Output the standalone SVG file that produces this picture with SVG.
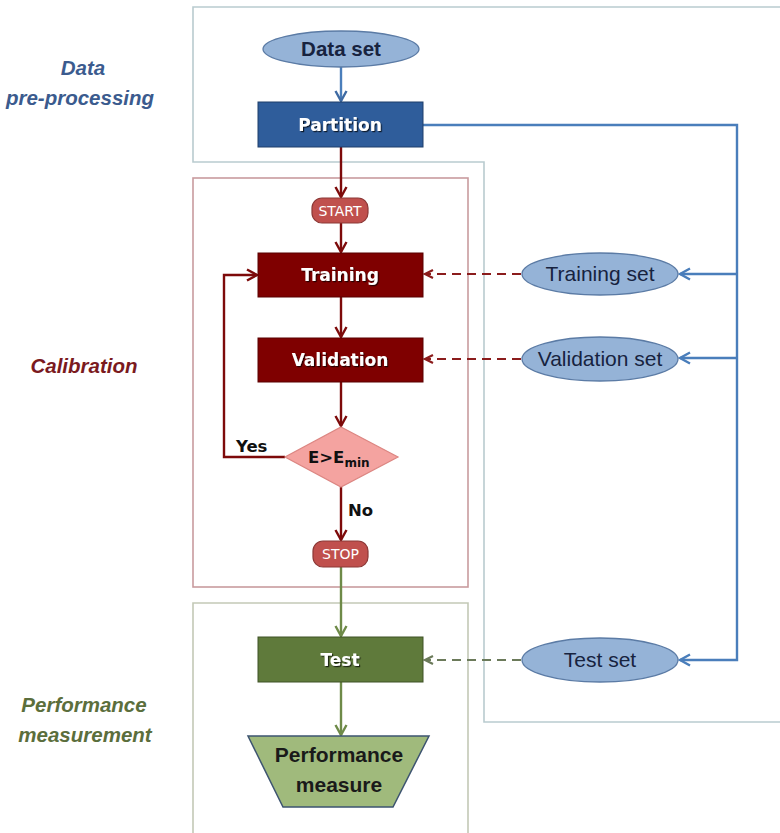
<svg xmlns="http://www.w3.org/2000/svg" width="780" height="833" viewBox="0 0 780 833">
  <style>
    .panel { fill: none; stroke-width: 1.6; }
    .box-label { font-family: "DejaVu Sans", Verdana, sans-serif; font-weight: bold; font-size: 17px; fill: #ffffff; text-anchor: middle; filter: url(#shadow); }
    .term-label { font-family: "DejaVu Sans", Verdana, sans-serif; font-size: 14px; fill: #ffffff; text-anchor: middle; }
    .set { fill: #95b3d7; stroke: #5b7ba5; stroke-width: 1.3; }
    .set-label { font-family: "Liberation Sans", Arial, sans-serif; font-size: 21px; fill: #17233f; text-anchor: middle; }
    .side-label { font-family: "Liberation Sans", Arial, sans-serif; font-weight: bold; font-style: italic; font-size: 20.5px; text-anchor: middle; }
    .cond { font-family: "DejaVu Sans", Verdana, sans-serif; font-weight: bold; font-size: 16.5px; fill: #111111; }
    .red { fill: none; stroke: #7d0a0a; stroke-width: 2.4; }
    .blue { fill: none; stroke: #4a7ebb; stroke-width: 2.4; }
    .green { fill: none; stroke: #6e8a48; stroke-width: 2.4; }
    .dash-red { fill: none; stroke: #8b1c1c; stroke-width: 2.2; stroke-dasharray: 9 6; }
    .dash-green { fill: none; stroke: #6b7a5a; stroke-width: 2.2; stroke-dasharray: 9 6; }
  </style>
  <defs>
    <filter id="shadow" x="-20%" y="-30%" width="140%" height="160%">
      <feDropShadow dx="1.2" dy="1.2" stdDeviation="0.6" flood-color="#000000" flood-opacity="0.7"/>
    </filter>
    <marker id="arr-red" markerUnits="userSpaceOnUse" markerWidth="14" markerHeight="14" viewBox="0 0 14 14" refX="12" refY="7" orient="auto">
      <path d="M2,1.5 L12,7 L2,12.5" fill="none" stroke="#7d0a0a" stroke-width="2.4"/>
    </marker>
    <marker id="arr-blue" markerUnits="userSpaceOnUse" markerWidth="14" markerHeight="14" viewBox="0 0 14 14" refX="12" refY="7" orient="auto">
      <path d="M2,1.5 L12,7 L2,12.5" fill="none" stroke="#4a7ebb" stroke-width="2.4"/>
    </marker>
    <marker id="arr-navy" markerUnits="userSpaceOnUse" markerWidth="14" markerHeight="14" viewBox="0 0 14 14" refX="12" refY="7" orient="auto">
      <path d="M2,1.5 L12,7 L2,12.5" fill="none" stroke="#3e6aa3" stroke-width="2.4"/>
    </marker>
    <marker id="arr-green" markerUnits="userSpaceOnUse" markerWidth="14" markerHeight="14" viewBox="0 0 14 14" refX="12" refY="7" orient="auto">
      <path d="M2,1.5 L12,7 L2,12.5" fill="none" stroke="#6e8a48" stroke-width="2.4"/>
    </marker>
    <marker id="arr-dred" markerUnits="userSpaceOnUse" markerWidth="12" markerHeight="12" viewBox="0 0 12 12" refX="10" refY="6" orient="auto">
      <path d="M2,2 L10,6 L2,10" fill="none" stroke="#8b1c1c" stroke-width="2.2"/>
    </marker>
    <marker id="arr-dgreen" markerUnits="userSpaceOnUse" markerWidth="12" markerHeight="12" viewBox="0 0 12 12" refX="10" refY="6" orient="auto">
      <path d="M2,2 L10,6 L2,10" fill="none" stroke="#6b7a5a" stroke-width="2.2"/>
    </marker>
  </defs>

  <rect x="0" y="0" width="780" height="833" fill="#ffffff"/>

  <!-- stage panels -->
  <g id="panels">
    <path class="panel" d="M781,7 H193 V162 H484 V722 H781" stroke="#b9cbcf"/>
    <rect class="panel" x="193" y="178" width="275" height="409" stroke="#c99b9e"/>
    <path class="panel" d="M193,835 V603 H468 V835" stroke="#c3c9b6"/>
  </g>

  <!-- stage titles -->
  <g id="stage-labels">
    <text class="side-label" x="83" y="75" fill="#3b5b8e">Data</text>
    <text class="side-label" x="80" y="105" fill="#3b5b8e">pre-processing</text>
    <text class="side-label" x="84" y="373" fill="#7b1a1e">Calibration</text>
    <text class="side-label" x="84" y="712" fill="#5b6e3c">Performance</text>
    <text class="side-label" x="85" y="742" fill="#5b6e3c">measurement</text>
  </g>

  <!-- connectors -->
  <g id="connectors">
    <path class="blue" d="M341,67 V101" stroke="#3e6aa3" marker-end="url(#arr-navy)"/>
    <path class="red" d="M341,147 V197" marker-end="url(#arr-red)"/>
    <path class="red" d="M341,223 V252" marker-end="url(#arr-red)"/>
    <path class="red" d="M341,297 V337" marker-end="url(#arr-red)"/>
    <path class="red" d="M341,382 V426" marker-end="url(#arr-red)"/>
    <path class="red" d="M341,487 V540" marker-end="url(#arr-red)"/>
    <path class="red" d="M285,457 H224 V275 H257" marker-end="url(#arr-red)"/>
    <path class="green" d="M341,567 V636" marker-end="url(#arr-green)"/>
    <path class="green" d="M341,682 V735" marker-end="url(#arr-green)"/>
    <path class="blue" d="M423,125 H737 V660 H680" marker-end="url(#arr-blue)"/>
    <path class="blue" d="M737,274 H680" marker-end="url(#arr-blue)"/>
    <path class="blue" d="M737,358 H680" marker-end="url(#arr-blue)"/>
    <path class="dash-red" d="M521,274 H425" marker-end="url(#arr-dred)"/>
    <path class="dash-red" d="M521,359 H425" marker-end="url(#arr-dred)"/>
    <path class="dash-green" d="M521,660 H425" marker-end="url(#arr-dgreen)"/>
    <text class="cond" x="236" y="452">Yes</text>
    <text class="cond" x="348" y="516">No</text>
  </g>

  <g id="data-set">
    <ellipse class="set" cx="341" cy="49" rx="78" ry="18"/>
    <text x="341" y="56" font-family="Liberation Sans, Arial, sans-serif" font-weight="bold" font-size="20.5" fill="#17233f" text-anchor="middle">Data set</text>
  </g>

  <g id="partition">
    <rect x="258" y="102" width="165" height="45" fill="#2f5d9b" stroke="#1f3f6b" stroke-width="1"/>
    <text class="box-label" x="340" y="131">Partition</text>
  </g>

  <g id="start">
    <rect x="312" y="198" width="56" height="25" rx="10" ry="10" fill="#c0504d" stroke="#8c3836" stroke-width="1.2"/>
    <text class="term-label" x="340" y="215.5">START</text>
  </g>

  <g id="training">
    <rect x="258" y="253" width="165" height="44" fill="#7f0000" stroke="#5a0000" stroke-width="1"/>
    <text class="box-label" x="340" y="281">Training</text>
  </g>

  <g id="validation">
    <rect x="258" y="338" width="165" height="44" fill="#7f0000" stroke="#5a0000" stroke-width="1"/>
    <text class="box-label" x="340" y="366">Validation</text>
  </g>

  <g id="decision">
    <polygon points="341,427 398,457 341,487 285,457" fill="#f4a3a0" stroke="#dc8682" stroke-width="1.2"/>
    <text x="308" y="463" font-family="DejaVu Sans, Verdana, sans-serif" font-weight="bold" font-size="16.5" fill="#111111">E&gt;E<tspan font-size="12" dy="4">min</tspan></text>
  </g>

  <g id="stop">
    <rect x="313" y="541" width="55" height="26" rx="10" ry="10" fill="#c0504d" stroke="#8c3836" stroke-width="1.2"/>
    <text class="term-label" x="340.5" y="559">STOP</text>
  </g>

  <g id="test">
    <rect x="258" y="637" width="165" height="45" fill="#5f7a3b" stroke="#3f5226" stroke-width="1"/>
    <text class="box-label" x="340" y="666">Test</text>
  </g>

  <g id="performance-measure">
    <polygon points="248,736 429,736 393,807 283,807" fill="#a0ba7c" stroke="#3d5470" stroke-width="1.5"/>
    <text x="339" y="762" font-family="Liberation Sans, Arial, sans-serif" font-weight="bold" font-size="21" fill="#1a1a1a" text-anchor="middle">Performance</text>
    <text x="339" y="792" font-family="Liberation Sans, Arial, sans-serif" font-weight="bold" font-size="21" fill="#1a1a1a" text-anchor="middle">measure</text>
  </g>

  <g id="training-set">
    <ellipse class="set" cx="600" cy="274" rx="78" ry="21"/>
    <text class="set-label" x="600" y="281">Training set</text>
  </g>

  <g id="validation-set">
    <ellipse class="set" cx="600" cy="359" rx="78" ry="22"/>
    <text class="set-label" x="600" y="366">Validation set</text>
  </g>

  <g id="test-set">
    <ellipse class="set" cx="600" cy="660" rx="78" ry="22"/>
    <text class="set-label" x="600" y="667">Test set</text>
  </g>
</svg>
